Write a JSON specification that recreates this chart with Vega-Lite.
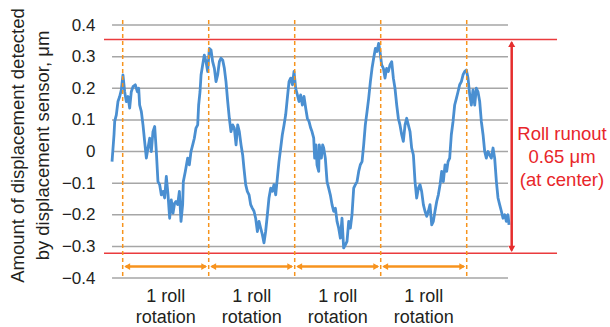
{
"$schema": "https://vega.github.io/schema/vega-lite/v6.json",
"width": 506, "height": 253,
"autosize": {"type": "none"},
"padding": {"left": 104, "top": 25, "right": 0, "bottom": 49},
"background": "white",
"config": {"view": {"stroke": null}, "font": "Liberation Sans",
 "axisY": {"tickCount": 9, "format": ".1~f", "grid": false, "domain": false, "ticks": false, "labelOverlap": false, "labelFlush": false,
  "labelFontSize": 17, "labelColor": "#231f20", "labelPadding": 9, "labelFont": "Liberation Sans", "labelBaseline": "middle",
  "titleFontSize": 18.5, "titleFontWeight": "normal", "titleColor": "#231f20", "titleFont": "Liberation Sans",
  "titleLineHeight": 25, "titleX": -87, "titleY": 120, "titleAngle": 270, "titleBaseline": "middle", "titleAlign": "center"}},
"datasets": {
"series": [
{"r":-0.124,"v":-0.032},{"r":-0.101,"v":0.053},{"r":-0.093,"v":0.095},{"r":-0.074,"v":0.116},{"r":-0.055,"v":0.158},{"r":-0.035,"v":0.174},{"r":-0.016,"v":0.195},{"r":0.003,"v":0.242},{"r":0.023,"v":0.189},{"r":0.042,"v":0.158},{"r":0.062,"v":0.174},{"r":0.081,"v":0.137},{"r":0.100,"v":0.189},{"r":0.120,"v":0.205},{"r":0.147,"v":0.211},{"r":0.170,"v":0.189},{"r":0.186,"v":0.2},{"r":0.197,"v":0.147},{"r":0.217,"v":0.126},{"r":0.236,"v":0.084},{"r":0.255,"v":0.032},{"r":0.275,"v":-0.021},{"r":0.294,"v":0.011},{"r":0.314,"v":0.042},{"r":0.333,"v":0},{"r":0.352,"v":0.063},{"r":0.372,"v":0.079},{"r":0.391,"v":0},{"r":0.410,"v":-0.095},{"r":0.430,"v":-0.105},{"r":0.449,"v":-0.137},{"r":0.469,"v":-0.126},{"r":0.488,"v":-0.147},{"r":0.507,"v":-0.079},{"r":0.527,"v":-0.137},{"r":0.546,"v":-0.211},{"r":0.565,"v":-0.153},{"r":0.585,"v":-0.195},{"r":0.604,"v":-0.163},
{"r":0.620,"v":-0.158},{"r":0.639,"v":-0.168},{"r":0.659,"v":-0.126},{"r":0.678,"v":-0.221},{"r":0.697,"v":-0.168},{"r":0.705,"v":-0.095},{"r":0.728,"v":-0.063},{"r":0.755,"v":-0.021},{"r":0.775,"v":-0.042},{"r":0.794,"v":0},{"r":0.814,"v":0.021},{"r":0.833,"v":0.042},{"r":0.852,"v":0.074},{"r":0.872,"v":0.084},{"r":0.883,"v":0.147},{"r":0.899,"v":0.189},{"r":0.911,"v":0.242},{"r":0.930,"v":0.274},{"r":0.949,"v":0.305},{"r":0.969,"v":0.284},{"r":0.988,"v":0.253},{"r":1.008,"v":0.326},{"r":1.027,"v":0.321},{"r":1.046,"v":0.284},{"r":1.066,"v":0.263},{"r":1.085,"v":0.221},{"r":1.104,"v":0.242},{"r":1.124,"v":0.284},{"r":1.143,"v":0.295},{"r":1.163,"v":0.289},{"r":1.182,"v":0.263},{"r":1.201,"v":0.221},{"r":1.221,"v":0.158},{"r":1.240,"v":0.105},{"r":1.259,"v":0.063},{"r":1.279,"v":0.084},{"r":1.298,"v":0.074},{"r":1.318,"v":0.021},{"r":1.337,"v":0.084},{"r":1.356,"v":0.063},{"r":1.376,"v":0.021},{"r":1.395,"v":-0.011},
{"r":1.410,"v":-0.053},{"r":1.430,"v":-0.105},{"r":1.449,"v":-0.126},{"r":1.469,"v":-0.137},{"r":1.488,"v":-0.168},{"r":1.507,"v":-0.179},{"r":1.527,"v":-0.189},{"r":1.546,"v":-0.211},{"r":1.566,"v":-0.253},{"r":1.585,"v":-0.221},{"r":1.604,"v":-0.242},{"r":1.624,"v":-0.263},{"r":1.643,"v":-0.289},{"r":1.662,"v":-0.253},{"r":1.682,"v":-0.2},{"r":1.701,"v":-0.147},{"r":1.721,"v":-0.116},{"r":1.740,"v":-0.126},{"r":1.759,"v":-0.105},{"r":1.779,"v":-0.137},{"r":1.798,"v":-0.084},{"r":1.817,"v":-0.032},{"r":1.837,"v":0.011},{"r":1.856,"v":0.053},{"r":1.876,"v":0.084},{"r":1.895,"v":0.116},{"r":1.914,"v":0.168},{"r":1.934,"v":0.221},{"r":1.953,"v":0.232},{"r":1.973,"v":0.211},{"r":1.992,"v":0.253},{"r":2.011,"v":0.2},{"r":2.031,"v":0.179},{"r":2.050,"v":0.158},{"r":2.069,"v":0.179},{"r":2.089,"v":0.147},{"r":2.108,"v":0.174},{"r":2.128,"v":0.137},{"r":2.147,"v":0.105},{"r":2.166,"v":0.095},{"r":2.186,"v":0.074},
{"r":2.201,"v":0.063},{"r":2.221,"v":0.042},{"r":2.232,"v":-0.021},{"r":2.248,"v":0.021},{"r":2.259,"v":-0.042},{"r":2.279,"v":-0.063},{"r":2.286,"v":0.021},{"r":2.310,"v":-0.021},{"r":2.325,"v":0.021},{"r":2.337,"v":0.011},{"r":2.356,"v":-0.021},{"r":2.376,"v":-0.095},{"r":2.395,"v":-0.116},{"r":2.414,"v":-0.137},{"r":2.434,"v":-0.168},{"r":2.453,"v":-0.189},{"r":2.473,"v":-0.179},{"r":2.492,"v":-0.221},{"r":2.511,"v":-0.242},{"r":2.531,"v":-0.274},{"r":2.550,"v":-0.211},{"r":2.569,"v":-0.305},{"r":2.589,"v":-0.295},{"r":2.608,"v":-0.284},{"r":2.628,"v":-0.221},{"r":2.647,"v":-0.242},{"r":2.666,"v":-0.2},{"r":2.686,"v":-0.116},{"r":2.705,"v":-0.105},{"r":2.725,"v":-0.095},{"r":2.744,"v":-0.063},{"r":2.763,"v":-0.042},{"r":2.783,"v":-0.032},{"r":2.802,"v":0.021},{"r":2.821,"v":0.084},{"r":2.841,"v":0.126},{"r":2.860,"v":0.168},{"r":2.880,"v":0.221},{"r":2.899,"v":0.263},{"r":2.918,"v":0.295},{"r":2.938,"v":0.326},{"r":2.957,"v":0.316},{"r":2.976,"v":0.342},
{"r":2.992,"v":0.316},{"r":3.011,"v":0.274},{"r":3.031,"v":0.263},{"r":3.050,"v":0.232},{"r":3.069,"v":0.263},{"r":3.089,"v":0.253},{"r":3.108,"v":0.274},{"r":3.128,"v":0.284},{"r":3.147,"v":0.232},{"r":3.166,"v":0.2},{"r":3.186,"v":0.147},{"r":3.205,"v":0.105},{"r":3.224,"v":0.084},{"r":3.244,"v":0.053},{"r":3.263,"v":0.032},{"r":3.283,"v":0.084},{"r":3.302,"v":0.105},{"r":3.321,"v":0.084},{"r":3.341,"v":0.063},{"r":3.360,"v":0.011},{"r":3.380,"v":-0.011},{"r":3.399,"v":-0.095},{"r":3.418,"v":-0.147},{"r":3.438,"v":-0.116},{"r":3.457,"v":-0.105},{"r":3.476,"v":-0.126},{"r":3.496,"v":-0.168},{"r":3.515,"v":-0.189},{"r":3.535,"v":-0.205},{"r":3.554,"v":-0.189},{"r":3.573,"v":-0.168},{"r":3.593,"v":-0.232},{"r":3.612,"v":-0.221},{"r":3.631,"v":-0.189},{"r":3.651,"v":-0.158},{"r":3.670,"v":-0.137},{"r":3.690,"v":-0.105},{"r":3.709,"v":-0.063},{"r":3.728,"v":-0.095},{"r":3.748,"v":-0.042},{"r":3.767,"v":-0.063},
{"r":3.783,"v":-0.032},{"r":3.802,"v":-0.021},{"r":3.821,"v":0.053},{"r":3.841,"v":0.095},{"r":3.860,"v":0.147},{"r":3.880,"v":0.168},{"r":3.899,"v":0.189},{"r":3.918,"v":0.211},{"r":3.938,"v":0.221},{"r":3.957,"v":0.242},{"r":3.976,"v":0.253},{"r":3.996,"v":0.258},{"r":4.015,"v":0.232},{"r":4.035,"v":0.179},{"r":4.054,"v":0.147},{"r":4.073,"v":0.195},{"r":4.093,"v":0.147},{"r":4.112,"v":0.2},{"r":4.131,"v":0.189},{"r":4.151,"v":0.158},{"r":4.170,"v":0.095},{"r":4.190,"v":0.053},{"r":4.209,"v":0},{"r":4.228,"v":-0.021},{"r":4.248,"v":0},{"r":4.267,"v":-0.011},{"r":4.286,"v":-0.021},{"r":4.306,"v":0.011},{"r":4.325,"v":-0.021},{"r":4.345,"v":-0.095},{"r":4.364,"v":-0.147},{"r":4.383,"v":-0.168},{"r":4.403,"v":-0.189},{"r":4.422,"v":-0.211},{"r":4.442,"v":-0.2},{"r":4.461,"v":-0.221},{"r":4.480,"v":-0.2},{"r":4.492,"v":-0.232}
],
"grid": [{"v":-0.4},{"v":-0.3},{"v":-0.2},{"v":-0.1},{"v":0},{"v":0.1},{"v":0.2},{"v":0.3},{"v":0.4}],
"rot": [{"r":0},{"r":1},{"r":2},{"r":3},{"r":4}],
"arrows": [{"a":0,"b":1},{"a":1,"b":2},{"a":2,"b":3},{"a":3,"b":4}],
"labels": [{"r":0.5,"t":"1 roll\nrotation"},{"r":1.5,"t":"1 roll\nrotation"},{"r":2.5,"t":"1 roll\nrotation"},{"r":3.5,"t":"1 roll\nrotation"}],
"bounds": [{"v":0.354},{"v":-0.322}],
"runout": [{"t":"Roll runout\n0.65 μm\n(at center)"}]
},
"layer": [
{"data": {"name": "grid"}, "mark": {"type": "rule", "color": "#a6a6a6", "strokeWidth": 1.5},
 "encoding": {
  "x": {"datum": -0.124, "type": "quantitative", "scale": {"domain": [-0.2174, 5.666], "nice": false, "zero": false}, "axis": null},
  "x2": {"datum": 4.48},
  "y": {"field": "v", "type": "quantitative", "scale": {"domain": [-0.4, 0.4], "nice": false, "zero": false},
   "axis": {"values": [-0.4,-0.3,-0.2,-0.1,0,0.1,0.2,0.3,0.4], "title": ["Amount of displacement detected", "by displacement sensor, μm"]}}
 }},
{"data": {"name": "bounds"}, "mark": {"type": "rule", "color": "#ea3b3d", "strokeWidth": 1.5},
 "encoding": {
  "x": {"datum": -0.2174, "type": "quantitative", "scale": {"domain": [-0.2174, 5.666], "nice": false, "zero": false}, "axis": null},
  "x2": {"datum": 5.05},
  "y": {"field": "v", "type": "quantitative", "scale": {"domain": [-0.4, 0.4], "nice": false, "zero": false}}
 }},
{"data": {"name": "series"}, "mark": {"type": "line", "color": "#4a8fd1", "strokeWidth": 2.8, "strokeJoin": "round"},
 "encoding": {
  "x": {"field": "r", "type": "quantitative", "scale": {"domain": [-0.2174, 5.666], "nice": false, "zero": false}, "axis": null},
  "y": {"field": "v", "type": "quantitative", "scale": {"domain": [-0.4, 0.4], "nice": false, "zero": false}}
 }},
{"data": {"name": "rot"}, "mark": {"type": "rule", "color": "#f7941d", "strokeWidth": 1.5, "strokeDash": [4, 3]},
 "encoding": {
  "x": {"field": "r", "type": "quantitative", "scale": {"domain": [-0.2174, 5.666], "nice": false, "zero": false}, "axis": null},
  "y": {"datum": 0.416, "type": "quantitative", "scale": {"domain": [-0.4, 0.4], "nice": false, "zero": false}},
  "y2": {"datum": -0.4}
 }},
{"data": {"name": "arrows"}, "mark": {"type": "rule", "color": "#f7931e", "strokeWidth": 2.5, "xOffset": 3, "x2Offset": -3},
 "encoding": {
  "x": {"field": "a", "type": "quantitative", "scale": {"domain": [-0.2174, 5.666], "nice": false, "zero": false}, "axis": null},
  "x2": {"field": "b"},
  "y": {"datum": -0.364, "type": "quantitative", "scale": {"domain": [-0.4, 0.4], "nice": false, "zero": false}}
 }},
{"data": {"name": "arrows"}, "mark": {"type": "point", "shape": "triangle-left", "filled": true, "size": 45, "opacity": 1, "color": "#f7931e", "xOffset": 4.5},
 "encoding": {
  "x": {"field": "a", "type": "quantitative", "scale": {"domain": [-0.2174, 5.666], "nice": false, "zero": false}, "axis": null},
  "y": {"datum": -0.364, "type": "quantitative", "scale": {"domain": [-0.4, 0.4], "nice": false, "zero": false}}
 }},
{"data": {"name": "arrows"}, "mark": {"type": "point", "shape": "triangle-right", "filled": true, "size": 45, "opacity": 1, "color": "#f7931e", "xOffset": -4.5},
 "encoding": {
  "x": {"field": "b", "type": "quantitative", "scale": {"domain": [-0.2174, 5.666], "nice": false, "zero": false}, "axis": null},
  "y": {"datum": -0.364, "type": "quantitative", "scale": {"domain": [-0.4, 0.4], "nice": false, "zero": false}}
 }},
{"data": {"values": [{}]}, "mark": {"type": "rule", "color": "#e52d2d", "strokeWidth": 2.5, "yOffset": 3, "y2Offset": -3},
 "encoding": {
  "x": {"datum": 4.523, "type": "quantitative", "scale": {"domain": [-0.2174, 5.666], "nice": false, "zero": false}, "axis": null},
  "y": {"datum": 0.354, "type": "quantitative", "scale": {"domain": [-0.4, 0.4], "nice": false, "zero": false}},
  "y2": {"datum": -0.322}
 }},
{"data": {"values": [{}]}, "mark": {"type": "point", "shape": "triangle-up", "filled": true, "size": 50, "opacity": 1, "color": "#e52d2d", "yOffset": 4.5},
 "encoding": {
  "x": {"datum": 4.523, "type": "quantitative", "scale": {"domain": [-0.2174, 5.666], "nice": false, "zero": false}, "axis": null},
  "y": {"datum": 0.354, "type": "quantitative", "scale": {"domain": [-0.4, 0.4], "nice": false, "zero": false}}
 }},
{"data": {"values": [{}]}, "mark": {"type": "point", "shape": "triangle-down", "filled": true, "size": 50, "opacity": 1, "color": "#e52d2d", "yOffset": -4.5},
 "encoding": {
  "x": {"datum": 4.523, "type": "quantitative", "scale": {"domain": [-0.2174, 5.666], "nice": false, "zero": false}, "axis": null},
  "y": {"datum": -0.322, "type": "quantitative", "scale": {"domain": [-0.4, 0.4], "nice": false, "zero": false}}
 }},
{"data": {"name": "labels"}, "mark": {"type": "text", "fontSize": 18, "lineBreak": "\n", "lineHeight": 21, "align": "center", "baseline": "alphabetic", "color": "#231f20", "font": "Liberation Sans"},
 "encoding": {
  "x": {"field": "r", "type": "quantitative", "scale": {"domain": [-0.2174, 5.666], "nice": false, "zero": false}, "axis": null},
  "y": {"datum": -0.476, "type": "quantitative", "scale": {"domain": [-0.4, 0.4], "nice": false, "zero": false}},
  "text": {"field": "t"}
 }},
{"data": {"name": "runout"}, "mark": {"type": "text", "fontSize": 18.5, "lineBreak": "\n", "lineHeight": 23, "align": "center", "baseline": "alphabetic", "color": "#e8262a", "font": "Liberation Sans"},
 "encoding": {
  "x": {"datum": 5.108, "type": "quantitative", "scale": {"domain": [-0.2174, 5.666], "nice": false, "zero": false}, "axis": null},
  "y": {"datum": 0.037, "type": "quantitative", "scale": {"domain": [-0.4, 0.4], "nice": false, "zero": false}},
  "text": {"field": "t"}
 }}
]
}
